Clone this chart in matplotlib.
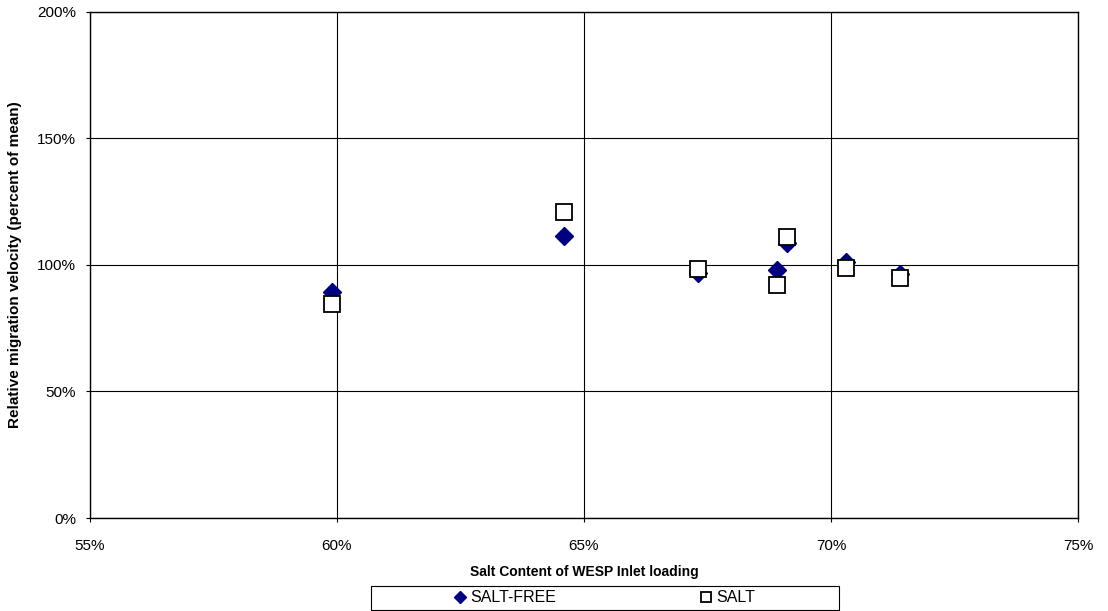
import matplotlib
matplotlib.use("Agg")
import matplotlib.pyplot as plt
from matplotlib.patches import Rectangle
from matplotlib.ticker import FuncFormatter, MultipleLocator

plt.rcParams["font.family"] = ["Liberation Sans", "DejaVu Sans"]

# Salt content of inlet loading (%) and relative migration velocity (% of mean)
salt_free_x = [59.9, 64.6, 67.3, 68.9, 69.1, 70.3, 71.4]
salt_free_y = [89.5, 111.5, 97.0, 98.0, 108.5, 101.0, 96.5]

salt_x = [59.9, 64.6, 67.3, 68.9, 69.1, 70.3, 71.4]
salt_y = [84.5, 121.0, 98.5, 92.0, 111.0, 99.0, 95.0]

fig = plt.figure(figsize=(11.08, 6.11), dpi=100, facecolor="white")
ax = fig.add_axes([0.0812, 0.1522, 0.8917, 0.8282])

ax.plot(salt_free_x, salt_free_y, linestyle="none", marker="D", markersize=9.5,
        color="#000080", markeredgecolor="#000080", label="SALT-FREE", zorder=3)
ax.plot(salt_x, salt_y, linestyle="none", marker="s", markersize=12,
        markerfacecolor="white", markeredgecolor="black", markeredgewidth=1.3,
        label="SALT", zorder=4)

ax.set_xlim(55, 75)
ax.set_ylim(0, 200)
ax.xaxis.set_major_locator(MultipleLocator(5))
ax.yaxis.set_major_locator(MultipleLocator(50))
pct = FuncFormatter(lambda v, p: f"{v:.0f}%")
ax.xaxis.set_major_formatter(pct)
ax.yaxis.set_major_formatter(pct)

ax.grid(True, color="black", linewidth=0.8)
ax.set_axisbelow(True)
for s in ax.spines.values():
    s.set_color("black")
    s.set_linewidth(1.0)

ax.tick_params(axis="x", direction="out", length=3, width=0.8, pad=12,
               labelsize=11)
ax.tick_params(axis="y", direction="out", length=3, width=0.8, pad=7,
               labelsize=11)

ax.set_xlabel("Salt Content of WESP Inlet loading", fontsize=10,
              fontweight="bold", labelpad=9)
ax.set_ylabel("Relative migration velocity (percent of mean)", fontsize=11,
              fontweight="bold", labelpad=11)

# legend box drawn separately, entries centred in it
fig.patches.append(Rectangle((0.3348, 0.0016), 0.4224, 0.0393,
                             transform=fig.transFigure, facecolor="white",
                             edgecolor="black", linewidth=0.8))
handles, labels = ax.get_legend_handles_labels()
leg = fig.legend(handles, labels, loc="center", bbox_to_anchor=(0.546, 0.0213),
                 ncol=2, frameon=False, fontsize=11.5, markerscale=0.6,
                 handlelength=0.7, handletextpad=0.3, columnspacing=9.0,
                 borderpad=0.1)

fig.savefig("out.png", dpi=100, facecolor="white")
